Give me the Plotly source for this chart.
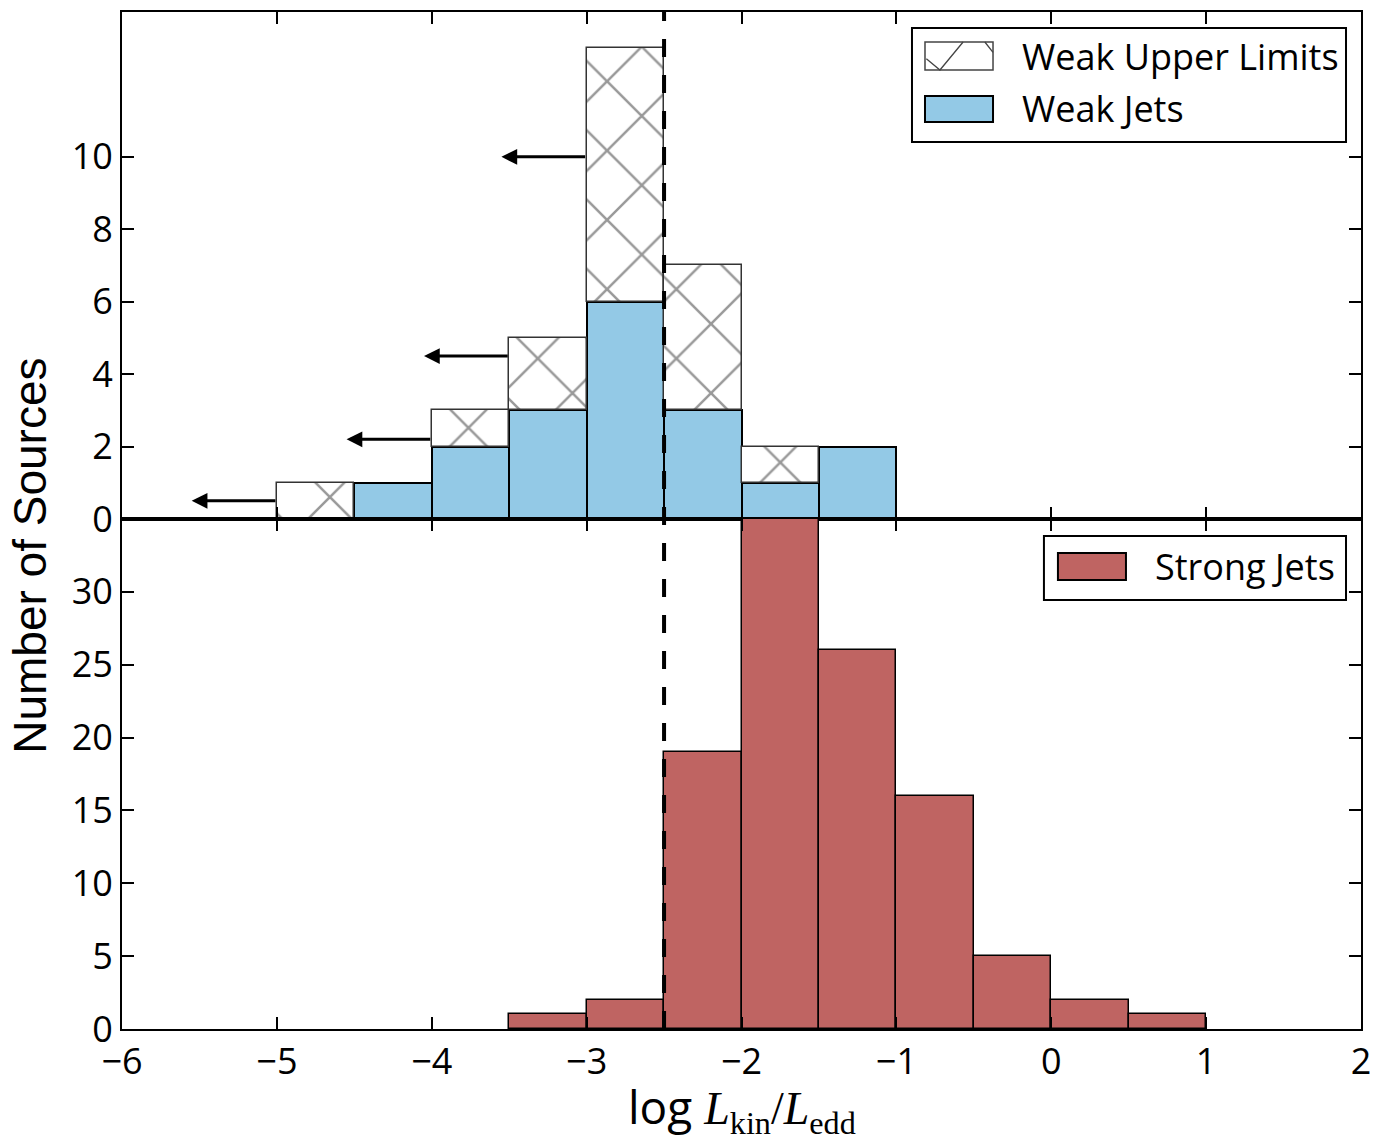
import plotly.graph_objects as go
from plotly.subplots import make_subplots

# Histogram bins (log L_kin / L_edd), width 0.5
bin_width = 0.5
weak_bins = [-4.75, -4.25, -3.75, -3.25, -2.75, -2.25, -1.75, -1.25]
weak_jets = [0, 1, 2, 3, 6, 3, 1, 2]
weak_upper = [1, 0, 1, 2, 7, 4, 1, 0]

strong_bins = [-3.25, -2.75, -2.25, -1.75, -1.25, -0.75, -0.25, 0.25, 0.75]
strong_jets = [1, 2, 19, 35, 26, 16, 5, 2, 1]

# Upper-limit arrows: tail (left edge of hatched bin) and height
arrow_tail_x = [-5.0, -4.0, -3.5, -3.0]
arrow_y = [0.5, 2.2, 4.5, 10.0]
arrow_len = 0.55

threshold = -2.5

x_ticks = [-6, -5, -4, -3, -2, -1, 0, 1, 2]
x_tick_text = ["\u22126", "\u22125", "\u22124", "\u22123", "\u22122", "\u22121", "0", "1", "2"]
top_ticks = [0, 2, 4, 6, 8, 10]
bottom_ticks = [0, 5, 10, 15, 20, 25, 30]

BLUE = "#93c9e6"
RED = "#bf6462"
FONT = "Open Sans"
FS = 36

fig = make_subplots(rows=2, cols=1, shared_xaxes=True, vertical_spacing=0)

# Weak jets (solid) with hatched upper limits stacked on top
fig.add_trace(go.Bar(
    x=weak_bins, y=weak_jets, width=bin_width,
    marker=dict(color=BLUE, line=dict(color="black", width=2)),
    name="Weak Jets", showlegend=False,
), row=1, col=1)

ul_x = [x for x, u in zip(weak_bins, weak_upper) if u > 0]
ul_y = [u for u in weak_upper if u > 0]
ul_base = [b for b, u in zip(weak_jets, weak_upper) if u > 0]
fig.add_trace(go.Bar(
    x=ul_x, y=ul_y, base=ul_base, width=bin_width,
    marker=dict(color="white", line=dict(color="#333333", width=1.5),
                pattern=dict(shape="x", size=49, solidity=0.1,
                             fgcolor="#333333", bgcolor="white")),
    name="Weak Upper Limits", showlegend=False,
), row=1, col=1)

fig.add_trace(go.Bar(
    x=strong_bins, y=strong_jets, width=bin_width,
    marker=dict(color=RED, line=dict(color="black", width=1.5)),
    name="Strong Jets", showlegend=False,
), row=2, col=1)

fig.update_layout(
    width=1373, height=1141,
    margin=dict(l=122, r=12, t=12, b=112, autoexpand=False),
    paper_bgcolor="white", plot_bgcolor="white",
    barmode="overlay", bargap=0,
    font=dict(family=FONT, size=FS, color="black"),
)

axis_common = dict(
    showline=True, linecolor="black", linewidth=2, mirror="ticks",
    ticks="inside", ticklen=12, tickwidth=1.5, tickcolor="black",
    showgrid=False, zeroline=False, automargin=False,
    tickfont=dict(family=FONT, size=FS, color="black"),
)

fig.update_xaxes(range=[-6, 2], tickvals=x_ticks, ticktext=x_tick_text, **axis_common)
fig.update_xaxes(showticklabels=False, row=1, col=1)
fig.update_yaxes(**axis_common)
fig.update_yaxes(range=[0, 14], tickvals=top_ticks, domain=[0.5015, 1.0], row=1, col=1)
fig.update_yaxes(range=[0, 35], tickvals=bottom_ticks, domain=[0.0, 0.5015], row=2, col=1)

# Dashed threshold line across both panels
fig.add_shape(type="line", xref="x", yref="paper", x0=threshold, x1=threshold,
              y0=0, y1=1, line=dict(color="black", width=4, dash="18px,18px"))

# Upper-limit arrows
for tx, ay in zip(arrow_tail_x, arrow_y):
    fig.add_annotation(x=tx - arrow_len, y=ay, ax=tx, ay=ay,
                       xref="x", yref="y", axref="x", ayref="y",
                       text="", showarrow=True, arrowhead=2, arrowsize=1.05,
                       arrowwidth=3, arrowcolor="black", standoff=0, startstandoff=0)

# Legend boxes (paper coordinates)
def box(x0, y0, x1, y1, fill="white", line_color="black", width=2):
    fig.add_shape(type="rect", xref="paper", yref="paper", x0=x0, y0=y0, x1=x1, y1=y1,
                  fillcolor=fill, line=dict(color=line_color, width=width), layer="above")

# Top legend
box(0.6376, 0.8722, 0.9879, 0.9843)
sx0, sx1 = 0.6481, 0.7030
sy0, sy1 = 0.9430, 0.9705
box(sx0, sy0, sx1, sy1, fill="white", line_color="#444444", width=1.5)
w, h = sx1 - sx0, sy1 - sy0
hatch_path = (
    f"M{sx0 + 0.02 * w},{sy1 - 0.6 * h} L{sx0 + 0.22 * w},{sy0} "
    f"L{sx0 + 0.56 * w},{sy1} "
    f"M{sx0 + 0.88 * w},{sy1} L{sx1},{sy1 - 0.37 * h}"
)
fig.add_shape(type="path", xref="paper", yref="paper", path=hatch_path,
              line=dict(color="#444444", width=1.3), layer="above")
box(sx0, 0.8918, sx1, 0.9174, fill=BLUE, line_color="black", width=2)
fig.add_annotation(x=0.7248, y=0.9567, xref="paper", yref="paper", text="Weak Upper Limits",
                   showarrow=False, xanchor="left", yanchor="middle",
                   font=dict(family=FONT, size=FS, color="black"))
fig.add_annotation(x=0.7248, y=0.9056, xref="paper", yref="paper", text="Weak Jets",
                   showarrow=False, xanchor="left", yanchor="middle",
                   font=dict(family=FONT, size=FS, color="black"))

# Bottom legend
box(0.7441, 0.4218, 0.9879, 0.4848)
box(0.7554, 0.4415, 0.8103, 0.4680, fill=RED, line_color="black", width=2)
fig.add_annotation(x=0.8321, y=0.4543, xref="paper", yref="paper", text="Strong Jets",
                   showarrow=False, xanchor="left", yanchor="middle",
                   font=dict(family=FONT, size=FS, color="black"))

# Axis titles
fig.add_annotation(x=-0.0745, y=0.465, xref="paper", yref="paper", text="Number of Sources",
                   showarrow=False, textangle=-90, xanchor="center", yanchor="middle",
                   font=dict(family="Liberation Sans", size=46, color="black"))
fig.add_annotation(
    x=0.5, y=-0.078, xref="paper", yref="paper", showarrow=False,
    xanchor="center", yanchor="middle",
    text=('log <span style="font-family:Liberation Serif"><i>L</i><sub>kin</sub>'
          '/<i>L</i><sub>edd</sub></span>'),
    font=dict(family=FONT, size=46, color="black"),
)

fig.write_html("out.html")
